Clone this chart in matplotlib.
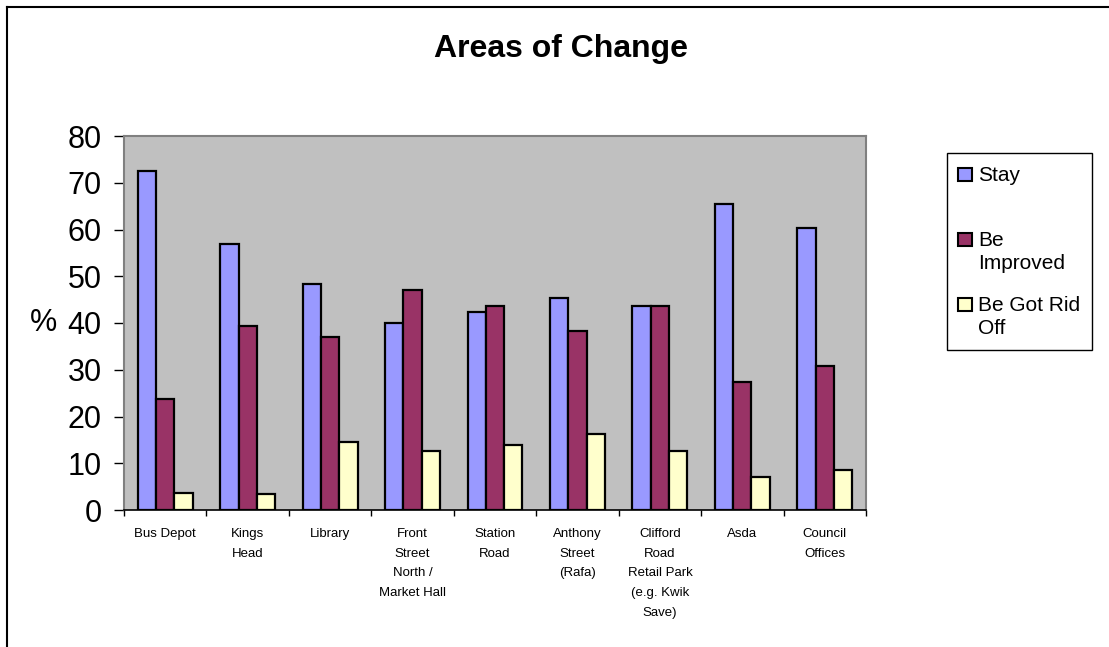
import numpy as np
import matplotlib
matplotlib.use('Agg')
import matplotlib.pyplot as plt
from matplotlib import font_manager
from matplotlib.patches import Rectangle
from matplotlib.lines import Line2D

# data
areas = ['Bus Depot', 'Kings\nHead', 'Library', 'Front\nStreet\nNorth /\nMarket Hall',
         'Station\nRoad', 'Anthony\nStreet\n(Rafa)', 'Clifford\nRoad\nRetail Park\n(e.g. Kwik\nSave)',
         'Asda', 'Council\nOffices']
stay = [72.5, 56.9, 48.3, 40.1, 42.4, 45.3, 43.6, 65.4, 60.4]
improved = [23.8, 39.4, 36.9, 47.0, 43.6, 38.3, 43.6, 27.3, 30.8]
got_rid = [3.6, 3.4, 14.5, 12.6, 13.8, 16.2, 12.6, 7.1, 8.6]
series_names = ['Stay', 'Be\nImproved', 'Be Got Rid\nOff']
colors = ['#9999FF', '#993366', '#FFFFCC']

plt.rcParams['font.family'] = ['Liberation Sans', 'DejaVu Sans']
installed = {f.name for f in font_manager.fontManager.ttflist}
narrow = 'Liberation Sans Narrow' if 'Liberation Sans Narrow' in installed else 'Liberation Sans'

W, H = 1109, 647
fig = plt.figure(figsize=(W / 100, H / 100), dpi=100)
ax = fig.add_axes([124 / W, 1 - 510 / H, (866 - 124) / W, (510 - 136) / H])
ax.set_facecolor('#C0C0C0')

x = np.arange(len(areas))
w = 0.222
for i, vals in enumerate([stay, improved, got_rid]):
    ax.bar(x + (i - 1) * w, vals, width=w, color=colors[i], edgecolor='black',
           linewidth=1.6, zorder=3)

ax.set_xlim(-0.5, len(areas) - 0.5)
ax.set_ylim(0, 80)
ax.set_yticks(np.arange(0, 81, 10))
ax.tick_params(axis='y', labelsize=22, length=7, width=1, pad=9)

# labels at category centres, tick marks at boundaries
ax.set_xticks(x)
ax.set_xticklabels(areas, fontsize=9.5, family=narrow, linespacing=1.85, va='top')
ax.tick_params(axis='x', which='major', length=0, pad=13)
ax.set_xticks(np.arange(-0.5, len(areas), 1), minor=True)
ax.tick_params(axis='x', which='minor', length=4, width=1)

for s in ['left', 'top', 'right']:
    ax.spines[s].set_color('#808080')
    ax.spines[s].set_linewidth(1.5)
ax.spines['bottom'].set_color('black')
ax.spines['bottom'].set_linewidth(1.2)

ax.set_ylabel('%', rotation=0, fontsize=22, va='center', ha='center')
ax.yaxis.set_label_coords(-0.108, 0.5)

fig.text(561 / W, 1 - 57 / H, 'Areas of Change', fontsize=23, fontweight='bold',
         ha='center', va='baseline')

# legend box drawn by hand to match the layout
def px(xp, yp):
    return xp / W, 1 - yp / H

fig.add_artist(Rectangle(px(947, 350), (1092 - 947) / W, (350 - 153) / H,
                         transform=fig.transFigure, facecolor='white',
                         edgecolor='black', linewidth=1))
tops = [168, 233, 298]
for name, c, t in zip(series_names, colors, tops):
    fig.add_artist(Rectangle(px(958, t + 13), 14 / W, 13 / H, transform=fig.transFigure,
                             facecolor=c, edgecolor='black', linewidth=1.5))
    for k, line in enumerate(name.split('\n')):
        fig.text(*px(978, t + 13 + 23 * k), line, fontsize=15, ha='left', va='baseline')

# outer chart border (top and left only visible)
fig.add_artist(Line2D([7 / W, 1], [1 - 7 / H, 1 - 7 / H], color='black', linewidth=1.5,
                      transform=fig.transFigure))
fig.add_artist(Line2D([7 / W, 7 / W], [1 - 7 / H, 0], color='black', linewidth=1.5,
                      transform=fig.transFigure))

fig.savefig('out.png', dpi=100)
